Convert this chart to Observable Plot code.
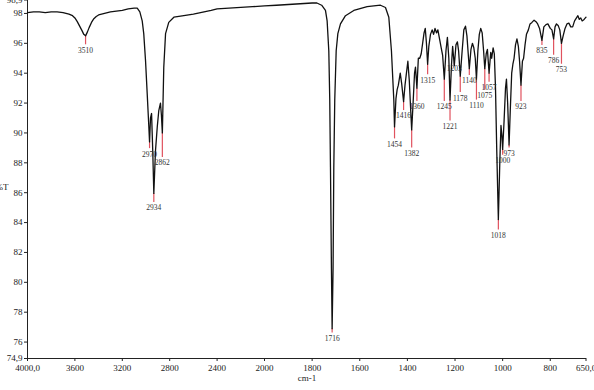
<!DOCTYPE html>
<html><head><meta charset="utf-8">
<script src="https://cdn.jsdelivr.net/npm/d3@7"></script>
<script src="https://cdn.jsdelivr.net/npm/@observablehq/plot@0.6"></script>
<style>
html,body{margin:0;padding:0;background:#fff;}
#chart svg{display:block;}
</style></head><body><div id="chart"></div>
<script>
// Spectrum (wavenumber cm-1, %T)
const wavenumber = [
  4000,3950,3900,3850,3800,3750,3700,3650,3620,3600,3580,3560,3540,3525,3510,3495,3480,3460,3440,3420,3400,3350,3300,3250,3200,3150,3100,3074,3052,3032,3019,3004,2990,2976,2970,2962,2953,2943,2934,2920,2905,2892,2878,2870,2862,2850,2835,2808,2765,2681,2600,2540,2450,2400,2300,2200,2100,2000,
  1950,1900,1850,1800,1780,1760,1744,1737,1730,1726,1723,1719,1716,1712,1709,1705,1699,1692,1681,1660,1625,1569,1513,1492,1478,1467,1457,1454,
  1448,1443,1438,1430,1424,1416,1410,1404,1398,1392,1386,1382,1376,1370,1366,1360,1354,1348,1342,1336,1330,1325,1320,1315,1310,1303,1296,1290,1284,1278,1272,1265,1258,1252,1245,1238,1232,1226,1221,1215,1210,1203,1196,1190,1185,1178,1170,1163,1156,1150,1140,1133,1127,1121,1115,1110,1104,1098,1092,1086,1080,1075,1069,1064,1057,1050,1046,1040,1035,1030,1025,1018,1012,1007,1003,1000,994,988,984,979,973,968,962,957,952,946,940,934,929,923,917,912,906,900,892,885,877,868,860,853,845,835,827,818,810,800,793,786,780,774,767,760,753,746,738,730,722,714,706,698,690,684,678,672,666,658,650
];
const transmittance = [
  98.05,98.1,98.1,98.05,98.1,98.1,98.05,97.95,97.85,97.7,97.45,97.15,96.85,96.6,96.5,96.75,97.05,97.4,97.65,97.8,97.9,98.0,98.1,98.15,98.2,98.3,98.35,98.35,98.1,97.5,96.65,94.85,92.65,90.4,89.4,91.0,91.3,88.8,85.95,88.8,90.4,91.5,92.0,91.2,90.0,94.4,96.65,97.4,97.75,97.85,97.95,98.05,98.2,98.3,98.35,98.4,98.45,98.5,
  98.55,98.6,98.65,98.7,98.7,98.55,98.2,97.5,95.5,92.2,87.7,81.0,76.9,81.0,87.7,92.2,95.5,96.65,97.3,97.85,98.2,98.45,98.55,98.4,97.75,95.5,92.2,90.4,
  92.3,92.9,93.2,94.0,93.3,92.1,93.2,94.0,94.8,93.5,91.5,90.2,92.0,94.0,94.4,93.0,95.0,95.0,95.3,96.0,96.7,97.0,96.0,94.6,95.8,96.6,96.9,96.6,97.0,96.7,96.9,96.3,95.7,95.2,93.6,95.5,96.4,95.0,92.2,94.5,95.8,94.5,95.9,96.1,95.5,93.8,95.5,96.9,97.15,96.5,94.3,95.6,96.0,95.7,95.0,93.6,95.5,96.6,97.0,96.7,95.5,94.3,95.3,95.6,94.0,95.4,95.0,95.7,95.3,93.0,89.0,84.2,88.0,90.5,89.8,88.9,90.8,93.0,93.6,92.0,89.2,91.5,94.0,94.6,95.0,95.9,96.3,95.8,94.8,93.2,94.8,95.0,95.9,96.6,96.9,97.3,97.4,97.55,97.45,97.3,97.0,96.2,97.1,97.25,97.3,97.0,96.9,96.3,97.1,97.3,97.2,96.9,96.0,96.5,97.0,97.3,97.35,97.1,97.1,97.5,97.7,97.85,97.6,97.7,97.5,97.6,97.75
];

// Peak annotations
const peakWavenumber = [3510,2970,2934,2862,1716,1454,1416,1382,1360,1315,1245,1221,1203,1178,1140,1110,1075,1057,1018,1000,973,923,835,786,753];
const peakTransmittance = [96.5,89.4,85.95,90.0,76.9,90.4,92.1,90.2,93.0,94.6,93.6,92.2,94.5,93.8,94.3,93.6,94.3,94.0,84.2,88.9,89.2,93.2,96.2,96.3,96.0];
const peakLineEnd = [95.9,88.95,85.35,88.35,76.6,89.6,91.5,89.0,92.1,93.9,92.1,90.8,94.7,92.7,93.85,92.2,92.85,93.4,83.5,88.5,89.0,92.1,95.85,95.2,94.6];
const peakLabel = ["3510","2970","2934","2862","1716","1454","1416","1382","1360","1315","1245","1221","1203","1178","1140","1110","1075","1057","1018","1000","973","923","835","786","753"];

// Axes
const xTicks = [4000,3600,3200,2800,2400,2000,1800,1600,1400,1200,1000,800,650];
const xTickLabels = ["4000,0","3600","3200","2800","2400","2000","1800","1600","1400","1200","1000","800","650,0"];
const yTicks = [74.9,76,78,80,82,84,86,88,90,92,94,96,98,98.9];
const yTickLabels = ["74,9","76","78","80","82","84","86","88","90","92","94","96","98","98,9"];

const spectrum = wavenumber.map((w, i) => ({w, t: transmittance[i]}));
const peaks = peakWavenumber.map((w, i) => ({w, t: peakTransmittance[i], end: peakLineEnd[i], label: peakLabel[i]}));

const plot = Plot.plot({
  width: 594,
  height: 390,
  marginLeft: 27,
  marginRight: 8,
  marginTop: 0,
  marginBottom: 32,
  style: {fontFamily: '"Liberation Serif", "Times New Roman", serif', fontSize: "9px", color: "#222", background: "#fff"},
  x: {
    type: "linear",
    domain: [4000, 2000, 650],
    range: [27, 264, 585.5],
    ticks: xTicks,
    tickFormat: d => xTickLabels[xTicks.indexOf(d)],
    tickSize: 3,
    tickPadding: 3,
    label: null
  },
  y: {
    domain: [74.9, 98.9],
    range: [358, -0.5],
    ticks: yTicks,
    tickFormat: d => yTickLabels[yTicks.indexOf(d)],
    tickSize: 3,
    tickPadding: 2,
    label: null
  },
  marks: [
    Plot.ruleY([74.9], {stroke: "#222", strokeWidth: 1}),
    Plot.ruleX([4000], {stroke: "#222", strokeWidth: 1}),
    Plot.ruleX(peaks, {x: "w", y1: "t", y2: "end", stroke: "#e0525e", strokeWidth: 1.2}),
    Plot.line(spectrum, {x: "w", y: "t", stroke: "#111", strokeWidth: 1.3, curve: "linear"}),
    Plot.text(peaks, {x: "w", y: "end", text: "label", dy: 5.5, fontSize: 7.5, fill: "#333"}),
    Plot.text(["%T"], {x: 4000, y: 86.35, text: d => d, textAnchor: "end", dx: -19, fontSize: 9, fill: "#222"}),
    Plot.text(["cm-1"], {frameAnchor: "bottom", text: d => d, dy: 22, fontSize: 9, fill: "#222"})
  ]
});
document.getElementById("chart").appendChild(plot);
</script>
</body></html>
